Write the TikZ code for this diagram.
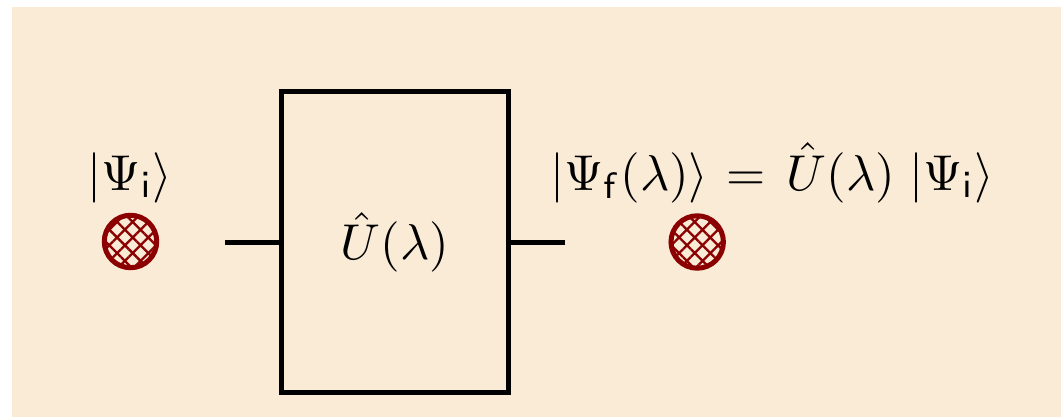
\documentclass[tikz,border=0pt]{standalone}
\usetikzlibrary{patterns.meta}
\definecolor{bgbeige}{RGB}{250,235,215}
\definecolor{qred}{RGB}{139,0,0}
\begin{document}
\begin{tikzpicture}[x=0.2174pt,y=-0.2174pt,
  font=\fontsize{11}{13}\selectfont,
  wire/.style={line width=1.09pt},
  gatebox/.style={draw,line width=1.09pt,rectangle,minimum width=49.2pt,minimum height=65.5pt,inner sep=0pt},
  qubit/.style={circle,draw=qred,line width=1.09pt,inner sep=0pt,minimum size=11.4pt,
    pattern={Hatch[angle=45,distance=2.4pt,line width=0.5pt]},pattern color=qred},
  lbl/.style={anchor=base,inner sep=0pt}]
\useasboundingbox (0,0) rectangle (1061,417);
\fill[bgbeige] (12,7) rectangle (1061,417);
\node[gatebox] (U) at (395,242.25) {$\hat U(\lambda)$};
\coordinate (inA) at (225,242.5);
\coordinate (outB) at (565,242.5);
\draw[wire] (inA) -- (U.west |- inA);
\draw[wire] (U.east |- outB) -- (outB);
\node[qubit] (qi) at (130.5,241.5) {};
\node[qubit] (qf) at (697.2,242) {};
\node[lbl] (li) at (130,190) {$|\Psi_{\mathsf{i}}\rangle$};
\node[lbl] (lf) at (772,190) {$|\Psi_{\mathsf{f}}(\lambda)\rangle\mskip1.5mu = \mskip2.5mu\hat U(\lambda)\;|\Psi_{\mathsf{i}}\rangle$};
\end{tikzpicture}
\end{document}
